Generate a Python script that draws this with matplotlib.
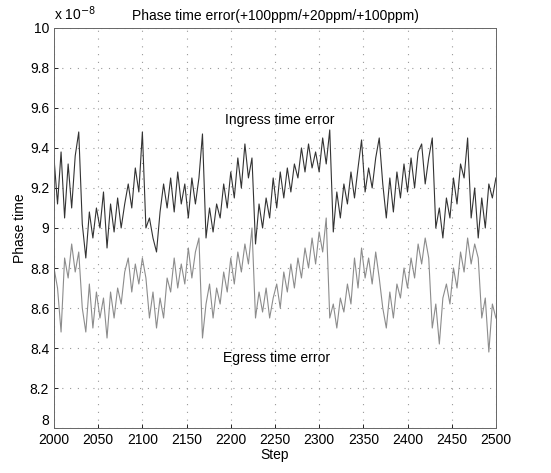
import numpy as np
from matplotlib import pyplot as plt

plt.rcParams['font.family'] = ['Liberation Sans', 'DejaVu Sans']

# phase time values in units of 1e-8, one sample every 4 steps
steps = np.arange(2000, 2501, 4)

ingress = [
    9.35, 9.12, 9.38, 9.05, 9.32, 9.10, 9.36, 9.48, 9.02, 8.85,
    9.08, 8.95, 9.10, 9.00, 9.18, 8.90, 9.12, 8.98, 9.15, 9.00,
    9.12, 9.22, 9.10, 9.30, 9.18, 9.48, 9.00, 9.05, 8.95, 8.88,
    9.08, 9.22, 9.10, 9.25, 9.08, 9.28, 9.12, 9.22, 9.05, 9.25,
    9.12, 9.25, 9.47, 8.95, 9.10, 8.98, 9.12, 9.05, 9.22, 9.10,
    9.28, 9.15, 9.35, 9.20, 9.42, 9.25, 9.35, 8.92, 9.12, 9.00,
    9.15, 9.05, 9.25, 9.10, 9.28, 9.15, 9.30, 9.18, 9.32, 9.25,
    9.40, 9.28, 9.42, 9.30, 9.38, 9.28, 9.45, 9.32, 9.49, 8.98,
    9.18, 9.05, 9.22, 9.12, 9.28, 9.15, 9.30, 9.44, 9.18, 9.30,
    9.20, 9.35, 9.45, 9.22, 9.05, 9.25, 9.08, 9.28, 9.15, 9.32,
    9.18, 9.35, 9.20, 9.38, 9.42, 9.22, 9.35, 9.45, 9.00, 9.10,
    8.95, 9.15, 9.05, 9.25, 9.12, 9.32, 9.25, 9.45, 9.05, 9.20,
    8.95, 9.15, 9.00, 9.22, 9.15, 9.25,
]

egress = [
    8.80, 8.70, 8.48, 8.85, 8.75, 8.92, 8.78, 8.88, 8.60, 8.48,
    8.72, 8.50, 8.68, 8.55, 8.65, 8.45, 8.68, 8.55, 8.70, 8.62,
    8.78, 8.85, 8.68, 8.82, 8.72, 8.85, 8.75, 8.55, 8.68, 8.50,
    8.65, 8.55, 8.75, 8.68, 8.85, 8.70, 8.82, 8.72, 8.90, 8.75,
    8.88, 8.95, 8.45, 8.62, 8.72, 8.55, 8.70, 8.62, 8.78, 8.68,
    8.85, 8.72, 8.88, 8.78, 8.92, 8.82, 9.00, 8.55, 8.68, 8.58,
    8.70, 8.55, 8.65, 8.72, 8.60, 8.78, 8.68, 8.82, 8.70, 8.85,
    8.75, 8.90, 8.80, 8.95, 8.82, 8.98, 8.88, 9.05, 8.55, 8.62,
    8.50, 8.65, 8.58, 8.72, 8.62, 8.85, 8.70, 8.90, 8.75, 8.85,
    8.72, 8.88, 8.75, 8.60, 8.50, 8.68, 8.55, 8.72, 8.65, 8.80,
    8.70, 8.85, 8.75, 8.92, 8.82, 8.95, 8.85, 8.50, 8.62, 8.42,
    8.65, 8.72, 8.62, 8.80, 8.70, 8.88, 8.78, 8.95, 8.82, 8.92,
    8.85, 8.55, 8.65, 8.38, 8.62, 8.55,
]

xticks = np.arange(2000, 2501, 50)
yticks = [8, 8.2, 8.4, 8.6, 8.8, 9, 9.2, 9.4, 9.6, 9.8, 10]
ytick_labels = ["8", "8.2", "8.4", "8.6", "8.8", "9", "9.2", "9.4", "9.6", "9.8", "10"]

fig = plt.figure(figsize=(5.51, 4.73), dpi=100)
ax = fig.add_axes([0.098, 0.095, 0.802, 0.846])

ax.plot(steps, egress, color='#8c8c8c', lw=0.8)
ax.plot(steps, ingress, color='#333333', lw=0.8)

ax.set_xlim(2000, 2500)
ax.set_ylim(8, 10)
ax.set_xticks(xticks)
ax.set_yticks(yticks)
ax.set_yticklabels(ytick_labels)
ax.tick_params(direction='in', length=3, labelsize=10, width=0.6)
# bottom y label sits just above the corner, as in the scan
ax.get_yticklabels()[0].set_verticalalignment('bottom')
ax.grid(True, linestyle=(0, (1, 6)), color='#999999', lw=0.8)
for s in ax.spines.values():
    s.set_linewidth(0.7)
    s.set_color('#666666')

ax.set_xlabel("Step", fontsize=10, labelpad=1)
ax.set_ylabel("Phase time", fontsize=10, labelpad=2)
ax.set_title("Phase time error(+100ppm/+20ppm/+100ppm)", fontsize=10, pad=6)
ax.text(0.0, 1.012, r"x 10$^{-8}$", transform=ax.transAxes, fontsize=10,
        ha='left', va='bottom')

ax.text(2255, 9.54, "Ingress time error", fontsize=10, ha='center', va='center')
ax.text(2252, 8.35, "Egress time error", fontsize=10, ha='center', va='center')

fig.savefig("out.png", dpi=100)
